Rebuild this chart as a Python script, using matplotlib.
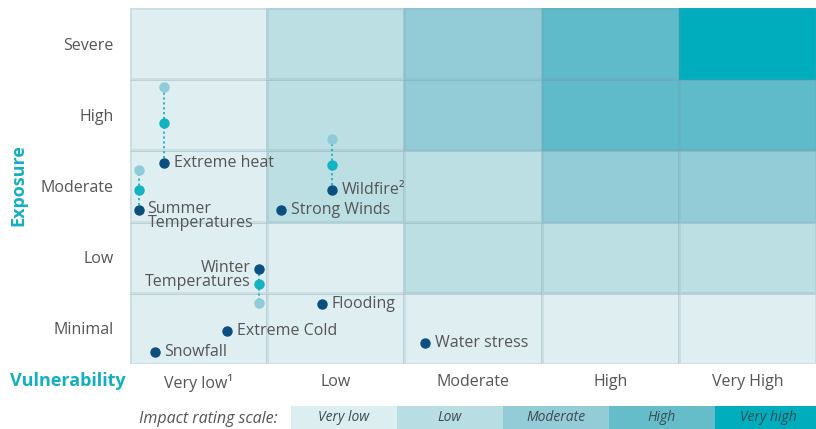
import numpy as np
import matplotlib.pyplot as plt
from matplotlib.colors import ListedColormap

plt.rcParams['font.family'] = ['Open Sans', 'DejaVu Sans']

#----------------------------------
# Data
#----------------------------------

vuln_labels = ["Very low¹", "Low", "Moderate", "High", "Very High"]
expo_labels = ["Minimal", "Low", "Moderate", "High", "Severe"]

# impact level per cell (0 = very low ... 4 = very high), rows from Minimal up
impact = np.array([
    [0, 0, 0, 0, 0],
    [0, 0, 1, 1, 1],
    [0, 1, 1, 2, 2],
    [0, 1, 2, 3, 3],
    [0, 1, 2, 3, 4],
])

scale_labels = ["Very low", "Low", "Moderate", "High", "Very high"]
cell_colors = ["#deeef1", "#bcdfe4", "#93ccd7", "#5fbac9", "#00adbd"]
scale_colors = ["#ddeef1", "#b8dde3", "#93ccd7", "#66bdca", "#00adbd"]

# single risks
risk_names = ["Strong Winds", "Flooding", "Extreme Cold", "Snowfall", "Water stress"]
risk_x = [1.10, 1.40, 0.71, 0.18, 2.15]
risk_y = [2.16, 0.84, 0.46, 0.17, 0.29]

# risks with current / mid / future positions
trend_names = ["Extreme heat", "Summer\nTemperatures", "Wildfire²", "Winter\nTemperatures"]
trend_x = [0.25, 0.066, 1.47, 0.94]
trend_now = [2.83, 2.16, 2.44, 1.34]
trend_mid = [3.38, 2.44, 2.80, 1.12]
trend_fut = [3.89, 2.73, 3.16, 0.85]

DARK = "#0b4f7f"
TEAL = "#13b3c3"
LIGHT = "#8fcbd8"
GREY = "#555555"
ACCENT = "#13afc0"
FS = 11.5

#----------------------------------
# Figure
#----------------------------------

fig = plt.figure(figsize=(8.16, 4.29), dpi=100)
ax = fig.add_axes([130/816, 65/429, 686/816, 356/429])

ax.pcolormesh(np.arange(6), np.arange(6), impact, cmap=ListedColormap(cell_colors),
              vmin=-0.5, vmax=4.5, edgecolor=(0.45, 0.6, 0.65, 0.18), linewidth=1)
ax.set_xlim(0, 5)
ax.set_ylim(0, 5)
for s in ax.spines.values():
    s.set_visible(False)
ax.set_xticks(np.arange(5) + 0.5)
ax.set_xticklabels(vuln_labels, fontsize=FS, color=GREY)
ax.set_yticks(np.arange(5) + 0.5)
ax.set_yticklabels(expo_labels, fontsize=FS, color=GREY)
ax.tick_params(length=0, pad=12)
ax.tick_params(axis='x', pad=7)

# trend risks
for name, x, y0, y1, y2 in zip(trend_names, trend_x, trend_now, trend_mid, trend_fut):
    ax.plot([x, x], [y0, y2], ls=(0, (1.2, 1.5)), color=TEAL, lw=1.3, zorder=3)
    ax.plot(x, y2, 'o', color=LIGHT, ms=6.5, zorder=4)
    ax.plot(x, y1, 'o', color=TEAL, ms=6.5, zorder=4)
    ax.plot(x, y0, 'o', color=DARK, ms=6.5, zorder=4)

ax.annotate(trend_names[0], (trend_x[0], trend_now[0]), xytext=(7, 0),
            textcoords='offset points', va='center', ha='left', fontsize=FS, color=GREY)
ax.annotate(trend_names[1], (trend_x[1], trend_now[1]), xytext=(6, 6.5),
            textcoords='offset points', va='top', ha='left', fontsize=FS, color=GREY,
            linespacing=0.85)
ax.annotate(trend_names[2], (trend_x[2], trend_now[2]), xytext=(7, 0),
            textcoords='offset points', va='center', ha='left', fontsize=FS, color=GREY)
ax.annotate(trend_names[3], (trend_x[3], trend_now[3]), xytext=(-6, 6.5),
            textcoords='offset points', va='top', ha='right', fontsize=FS, color=GREY,
            linespacing=0.85)

# single risks
for name, x, y in zip(risk_names, risk_x, risk_y):
    ax.plot(x, y, 'o', color=DARK, ms=6.5, zorder=4)
    ax.annotate(name, (x, y), xytext=(7, 0), textcoords='offset points',
                va='center', ha='left', fontsize=FS, color=GREY)

fig.text(18/816, 1 - 185/429, "Exposure", rotation=90, ha='center', va='center',
         fontsize=13, fontweight='bold', color=ACCENT)
fig.text(68/816, 1 - 381/429, "Vulnerability", ha='center', va='center',
         fontsize=13, fontweight='bold', color=ACCENT)

#----------------------------------
# Impact rating scale
#----------------------------------

lax = fig.add_axes([291/816, 0, 530/816, 23/429])
lax.barh(0, np.ones(5), left=np.arange(5), height=1, color=scale_colors)
for i, lab in enumerate(scale_labels):
    lax.text(i + 0.5, 0, lab, ha='center', va='center', fontsize=10,
             style='italic', color="#3d4a50")
lax.set_xlim(0, 5)
lax.set_ylim(-0.5, 0.5)
lax.axis('off')

fig.text(278/816, 1 - 419/429, "Impact rating scale:", ha='right', va='center',
         fontsize=11.5, style='italic', color=GREY)

fig.savefig("out.png", dpi=100)
